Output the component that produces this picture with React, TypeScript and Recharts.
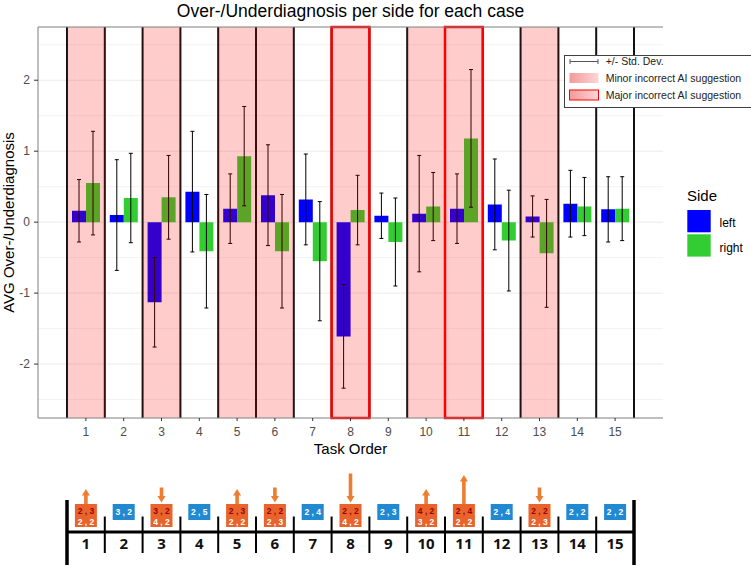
import React from 'react';
import {
  ComposedChart,
  Bar,
  ErrorBar,
  XAxis,
  YAxis,
  ReferenceLine,
  ReferenceArea,
  Scatter,
} from 'recharts';

// task order 1..15
const tasks = [1, 2, 3, 4, 5, 6, 7, 8, 9, 10, 11, 12, 13, 14, 15];

// mean over-/underdiagnosis and std. dev. per side
const leftMean = [0.16, 0.1, -1.13, 0.43, 0.19, 0.38, 0.32, -1.61, 0.09, 0.12, 0.19, 0.25, 0.08, 0.26, 0.18];
const leftSd = [0.44, 0.78, 0.63, 0.85, 0.49, 0.71, 0.64, 0.73, 0.32, 0.82, 0.49, 0.64, 0.29, 0.47, 0.46];
const rightMean = [0.55, 0.34, 0.35, -0.41, 0.93, -0.41, -0.55, 0.17, -0.28, 0.22, 1.18, -0.26, -0.44, 0.22, 0.19];
const rightSd = [0.73, 0.63, 0.59, 0.8, 0.7, 0.8, 0.84, 0.49, 0.62, 0.48, 0.97, 0.71, 0.76, 0.41, 0.45];

// AI suggestion quality per case
const caseKind = ['minor', 'correct', 'minor', 'correct', 'minor', 'minor', 'correct', 'major', 'correct', 'minor', 'major', 'correct', 'minor', 'correct', 'correct'];

// strip below the chart: AI suggestion (if wrong), ground truth, arrow direction/size
const aiSuggestion = ['2 , 3', null, '3 , 2', null, '2 , 3', '2 , 2', null, '2 , 2', null, '4 , 2', '2 , 4', null, '2 , 2', null, null];
const groundTruth = ['2 , 2', '3 , 2', '4 , 2', '2 , 5', '2 , 2', '2 , 3', '2 , 4', '4 , 2', '2 , 3', '3 , 2', '2 , 2', '2 , 4', '2 , 3', '2 , 2', '2 , 2'];
const arrowSteps = [1, 0, -1, 0, 1, -1, 0, -2, 0, 1, 2, 0, -1, 0, 0];

const yDomain = [-2.76, 2.75];
const yTicks = [-2, -1, 0, 1, 2];
const gridValues = [-2.5, -2, -1.5, -1, -0.5, 0, 0.5, 1, 1.5, 2, 2.5];

const chartData = tasks.map((task, i) => ({
  task,
  left: leftMean[i],
  leftSd: leftSd[i],
  right: rightMean[i],
  rightSd: rightSd[i],
  kind: caseKind[i],
}));

const stripData = tasks.map((task, i) => ({
  task,
  ai: aiSuggestion[i],
  truth: groundTruth[i],
  arrow: arrowSteps[i],
}));

const font = '"Liberation Sans", Arial, Helvetica, sans-serif';
const grey = '#4D4D4D';
const frame = '#7F7F7F';
const orange = '#E8642C';
const arrowOrange = '#ED7D31';
const boxBlue = '#2189D2';

const StripGlyph = (props: any) => {
  const { cx, cy, payload } = props;
  if (cx == null || cy == null || !payload) return null;
  const wrong = payload.ai != null;
  const top = cy - 28;
  const w = 22;
  const h = wrong ? 23 : 16;
  const len = Math.abs(payload.arrow) * 14 + 1;
  let arrow = null;
  if (payload.arrow > 0) {
    const tip = top - len;
    arrow = (
      <g fill={arrowOrange}>
        <rect x={cx - 1.8} y={tip + 6} width={3.6} height={len - 6} />
        <polygon points={`${cx - 4},${tip + 6.5} ${cx + 4},${tip + 6.5} ${cx},${tip}`} />
      </g>
    );
  } else if (payload.arrow < 0) {
    const tip = top - 1.5;
    const start = tip - len;
    arrow = (
      <g fill={arrowOrange}>
        <rect x={cx - 1.8} y={start} width={3.6} height={len - 6} />
        <polygon points={`${cx - 4},${tip - 6.5} ${cx + 4},${tip - 6.5} ${cx},${tip}`} />
      </g>
    );
  }
  const txt = { fontFamily: font, fontSize: 8.5, fontWeight: 700, textAnchor: 'middle' as const };
  return (
    <g>
      {arrow}
      <rect x={cx - w / 2} y={top} width={w} height={h} fill={wrong ? orange : boxBlue} />
      {wrong ? (
        <>
          <text x={cx} y={top + 9.8} fill="#9C0006" {...txt}>{payload.ai}</text>
          <text x={cx} y={top + 20.6} fill="#fff" {...txt}>{payload.truth}</text>
        </>
      ) : (
        <text x={cx} y={top + 11.2} fill="#fff" {...txt}>{payload.truth}</text>
      )}
    </g>
  );
};

export default function App() {
  return (
    <div style={{ position: 'absolute', left: 0, top: 0, width: 751, height: 567, background: '#fff', overflow: 'hidden' }}>
      <div style={{ position: 'absolute', left: 0, top: 0 }}>
        <ComposedChart width={751} height={463} data={chartData} margin={{ top: 27, right: 88, left: 0, bottom: 0 }} barGap={0}>
          {gridValues.map((v) => (
            <ReferenceLine key={'g' + v} y={v} stroke={Number.isInteger(v) ? '#EBEBEB' : '#F3F3F3'} strokeWidth={1} zIndex={-50} />
          ))}
          <XAxis
            dataKey="task"
            type="category"
            scale="band"
            interval={0}
            padding={{ left: 29, right: 29 }}
            height={45}
            tickSize={3}
            tickMargin={6}
            tick={{ fontSize: 12, fill: grey, fontFamily: font }}
            tickLine={{ stroke: '#333' }}
            axisLine={{ stroke: frame }}
            label={{ value: 'Task Order', position: 'insideBottom', offset: 9, fontSize: 15, fill: '#000', fontFamily: font }}
          />
          <XAxis
            xAxisId="top"
            orientation="top"
            dataKey="task"
            type="category"
            scale="band"
            padding={{ left: 29, right: 29 }}
            height={0}
            tick={false}
            tickLine={false}
            axisLine={{ stroke: frame }}
          />
          <YAxis
            type="number"
            domain={yDomain}
            allowDataOverflow
            ticks={yTicks}
            width={38}
            tickSize={4}
            tickMargin={4}
            tick={{ fontSize: 12, fill: grey, fontFamily: font }}
            tickLine={{ stroke: '#333' }}
            axisLine={{ stroke: frame }}
            label={{
              value: 'AVG Over-/Underdiagnosis',
              angle: -90,
              position: 'insideLeft',
              offset: 9,
              fontSize: 15,
              fill: '#000',
              fontFamily: font,
              style: { textAnchor: 'middle' },
            }}
          />
          <YAxis yAxisId="frame" orientation="right" width={0} tick={false} tickLine={false} axisLine={{ stroke: frame }} />
          <Bar dataKey="left" fill="#0000FF" barSize={14} isAnimationActive={false}>
            <ErrorBar dataKey="leftSd" width={2} stroke="#000" strokeWidth={1} />
          </Bar>
          <Bar dataKey="right" fill="#32CD32" barSize={14} isAnimationActive={false}>
            <ErrorBar dataKey="rightSd" width={2} stroke="#000" strokeWidth={1} />
          </Bar>
          {tasks.map((t) => (
            <ReferenceLine key={'v' + t} x={t} position="start" stroke="#111" strokeWidth={2} ifOverflow="visible" zIndex={440} />
          ))}
          <ReferenceLine x={15} position="end" stroke="#111" strokeWidth={2} ifOverflow="visible" zIndex={440} />
          {chartData
            .filter((d) => d.kind !== 'correct')
            .map((d) => (
              <ReferenceArea
                key={'a' + d.task}
                x1={d.task}
                x2={d.task}
                fill="#FF0000"
                fillOpacity={0.2}
                stroke={d.kind === 'major' ? '#FF0000' : 'none'}
                strokeWidth={2.5}
                ifOverflow="visible"
                zIndex={450}
              />
            ))}
          <ReferenceLine y={yDomain[1]} stroke={frame} strokeWidth={1} ifOverflow="visible" zIndex={460} />
        </ComposedChart>
      </div>

      <div style={{ position: 'absolute', left: 0, top: 465 }}>
        <ComposedChart width={751} height={102} data={stripData} margin={{ top: 5, right: 117, left: 67, bottom: 0 }}>
          <XAxis
            dataKey="task"
            type="category"
            scale="band"
            interval={0}
            height={35}
            axisLine={{ stroke: '#000', strokeWidth: 3 }}
            tickLine={false}
            tickSize={0}
            tickMargin={6}
            tick={{ fontSize: 15, fontWeight: 700, fill: '#111', fontFamily: '"Open Sans", sans-serif' }}
          />
          <YAxis hide domain={[0, 62]} />
          <ReferenceLine segment={[{ x: 1, y: -33 }, { x: 1, y: 32 }]} position="start" stroke="#000" strokeWidth={3.5} ifOverflow="visible" />
          <ReferenceLine segment={[{ x: 15, y: -33 }, { x: 15, y: 32 }]} position="end" stroke="#000" strokeWidth={3.5} ifOverflow="visible" />
          {tasks.slice(1).map((t) => (
            <ReferenceLine key={'s' + t} segment={[{ x: t, y: -21 }, { x: t, y: 15.5 }]} position="start" stroke="#000" strokeWidth={2} ifOverflow="visible" />
          ))}
          <Scatter dataKey={() => 0} shape={StripGlyph} isAnimationActive={false} />
        </ComposedChart>
      </div>

      <svg width={751} height={567} style={{ position: 'absolute', left: 0, top: 0, pointerEvents: 'none' }}>
        <defs>
          <linearGradient id="pinkGrad" x1="0" x2="1" y1="0" y2="0">
            <stop offset="0%" stopColor="#F29A9A" />
            <stop offset="100%" stopColor="#FCD6D6" />
          </linearGradient>
        </defs>
        <text x={350.5} y={16.7} textAnchor="middle" fontSize={17.5} fontFamily={font} fill="#000">
          Over-/Underdiagnosis per side for each case
        </text>

        <rect x={564.5} y={55.5} width={190} height={52} fill="#fff" stroke="#404040" strokeWidth={1} />
        <g stroke="#555" strokeWidth={1}>
          <line x1={570} y1={61.5} x2={598} y2={61.5} />
          <line x1={570} y1={59} x2={570} y2={64} />
          <line x1={598} y1={59} x2={598} y2={64} />
        </g>
        <rect x={569.5} y={73} width={29} height={10} fill="url(#pinkGrad)" />
        <rect x={569.5} y={90} width={29} height={10} fill="url(#pinkGrad)" stroke="#FF0000" strokeWidth={1} />
        <g fontFamily={font} fontSize={10.5} fill="#222">
          <text x={605.7} y={65}>+/- Std. Dev.</text>
          <text x={605.7} y={82}>Minor incorrect AI suggestion</text>
          <text x={605.7} y={99}>Major incorrect AI suggestion</text>
        </g>

        <text x={687} y={201} fontSize={15} fontFamily={font} fill="#000">Side</text>
        <rect x={687.3} y={210} width={23.4} height={22.3} fill="#0000FF" />
        <rect x={687.3} y={234.3} width={23.4} height={22.3} fill="#32CD32" />
        <text x={719.5} y={226.5} fontSize={12} fontFamily={font} fill="#000">left</text>
        <text x={719.5} y={252} fontSize={12} fontFamily={font} fill="#000">right</text>
      </svg>
    </div>
  );
}
